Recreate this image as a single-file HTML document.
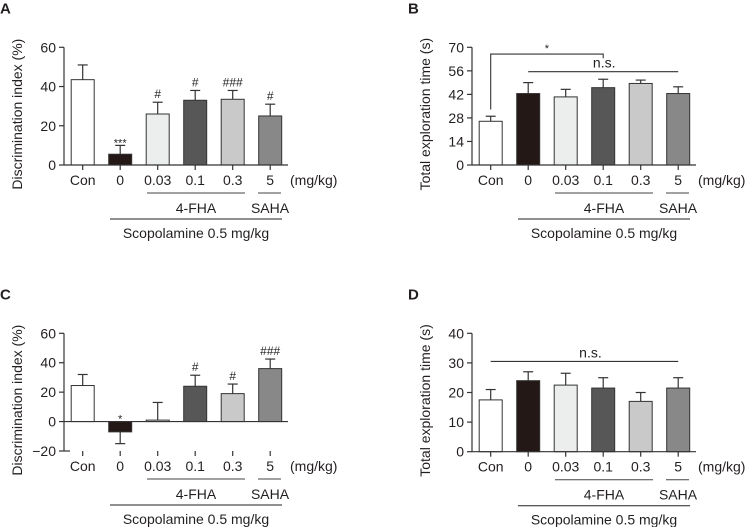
<!DOCTYPE html>
<html><head><meta charset="utf-8"><style>
body{margin:0;background:#fff}
svg{display:block;font-family:"Liberation Sans",sans-serif;fill:#231f20}
</style></head><body>
<svg id="fig" width="748" height="527" viewBox="0 0 748 527" xmlns="http://www.w3.org/2000/svg"></svg>
<script>
const categories=["Con","0","0.03","0.1","0.3","5"];
const colors=["#ffffff","#231815","#eceeee","#575757","#c9c9c9","#888888"];
const aMeans=[43.5,5.5,26,33,33.5,25];
const aErr=[7.5,4.5,6,5,4.5,6];
const aMarks=["","***","#","#","###","#"];
const aTicks=[0,20,40,60];
const bMeans=[26,42.5,40.5,46,48.5,42.5];
const bErr=[3,6.5,4.5,5,2,4];
const bTicks=[0,14,28,42,56,70];
const cMeans=[24.5,-7,1,24,19,36];
const cErr=[7.5,8,12,7.5,6.5,6.5];
const cMarks=["","*","","#","#","###"];
const cTicks=[-20,0,20,40,60];
const dMeans=[17.5,24,22.5,21.5,17,21.5];
const dErr=[3.5,3,4,3.5,3,3.5];
const dTicks=[0,10,20,30,40];
const NS="http://www.w3.org/2000/svg";
const svg=document.getElementById('fig');
function mk(tag,attrs,parent,text){const e=document.createElementNS(NS,tag);for(const k in attrs)e.setAttribute(k,attrs[k]);if(text!==undefined)e.textContent=text;(parent||svg).appendChild(e);return e;}
function panel(o){
  const g=mk('g',{});
  
  
  const min=o.ticks[0],max=o.ticks[o.ticks.length-1];
  const y=v=>o.yBot-(v-min)/(max-min)*(o.yBot-o.yTop);
  const x=i=>o.x0+18.7+i*37.5;
  const L=mk('text',{x:o.x0-64,y:o.yTop-34,'font-size':15,'font-weight':'bold'},g,o.letter);
  
  const ax=mk('line',{x1:o.x0,y1:o.yTop,x2:o.x0,y2:o.yBot,stroke:'#333','stroke-width':1.2},g);
  
  o.ticks.forEach(t=>{
    mk('line',{x1:o.x0-5,x2:o.x0,y1:y(t),y2:y(t),stroke:'#333','stroke-width':1.2},g);
    const tl=mk('text',{x:o.x0-8,y:y(t)+5,'font-size':14,'text-anchor':'end'},g,t<0?'\u2212'+(-t):String(t));
    
  });
  const yt=mk('text',{transform:`translate(${o.x0-42},${(o.yTop+o.yBot)/2+8}) rotate(-90)`,'font-size':14,'text-anchor':'middle'},g,o.ytitle);
  
  o.means.forEach((m,i)=>{
    const cx=x(i),w=23,z=y(Math.max(min,0)),ym=y(m);
    const top=m>=0?y(m+o.err[i]):y(m-o.err[i]);
    const eb=mk('line',{x1:cx,x2:cx,y1:ym,y2:top,stroke:'#333','stroke-width':1.2},g);
    
    mk('line',{x1:cx-5,x2:cx+5,y1:top,y2:top,stroke:'#333','stroke-width':1.2},g);
    const b=mk('rect',{x:cx-w/2,y:Math.min(z,ym),width:w,height:Math.abs(z-ym),fill:colors[i],stroke:'#333','stroke-width':1},g);
    
    if(o.marks&&o.marks[i]){
      const star=o.marks[i].indexOf('*')>=0;
      let ty;
      if(m>=0) ty=star?top+1:top-4;
      else ty=star?z+1:z-4;
      const mt=mk('text',{x:cx,y:ty,'font-size':star?11:12,'text-anchor':'middle'},g,o.marks[i]);
      
    }
  });
  const z0=y(Math.max(min,0));
  const xa=mk('line',{x1:o.x0,x2:o.x0+224,y1:o.zeroAxis?z0:o.yBot,y2:o.zeroAxis?z0:o.yBot,stroke:'#333','stroke-width':1.2},g);
  
  if(o.zeroAxis) mk('line',{x1:o.x0,x2:o.x0+6,y1:o.yBot,y2:o.yBot,stroke:'#333','stroke-width':1.2},g);
  categories.forEach((c,i)=>{
    mk('line',{x1:x(i),x2:x(i),y1:o.yBot,y2:o.yBot+5,stroke:'#333','stroke-width':1.2},g);
    const cl=mk('text',{x:x(i),y:o.yBot+20,'font-size':14,'text-anchor':'middle'},g,c);
    
  });
  const u=mk('text',{x:o.x0+226,y:o.yBot+20,'font-size':14},g,'(mg/kg)');
  
  const b1=o.yBot+28;
  mk('line',{x1:o.x0+83,x2:o.x0+181,y1:b1,y2:b1,stroke:'#444','stroke-width':1},g);
  mk('line',{x1:o.x0+194,x2:o.x0+217,y1:b1,y2:b1,stroke:'#444','stroke-width':1},g);
  const f=mk('text',{x:o.x0+132,y:b1+20,'font-size':14,'text-anchor':'middle'},g,'4-FHA');
  
  const s=mk('text',{x:o.x0+206,y:b1+20,'font-size':14,'text-anchor':'middle'},g,'SAHA');
  
  const b2=b1+26;
  mk('line',{x1:o.x0+46,x2:o.x0+218,y1:b2,y2:b2,stroke:'#222','stroke-width':1},g);
  const sc=mk('text',{x:o.x0+132,y:b2+19,'font-size':14,'text-anchor':'middle'},g,'Scopolamine 0.5 mg/kg');
  
  return {g,x,y};
}
panel({letter:'A',x0:64,yTop:47.3,yBot:165,ticks:aTicks,means:aMeans,err:aErr,marks:aMarks,ytitle:'Discrimination index (%)'});
const pb=panel({letter:'B',x0:472,yTop:47.3,yBot:165,ticks:bTicks,means:bMeans,err:bErr,ytitle:'Total exploration time (s)'});
const sb=mk('polyline',{points:`${pb.x(0)},${pb.y(33)} ${pb.x(0)},${pb.y(66)} ${pb.x(3)},${pb.y(66)} ${pb.x(3)},${pb.y(63.5)}`,fill:'none',stroke:'#333','stroke-width':1.1},pb.g);

mk('text',{x:(pb.x(0)+pb.x(3))/2,y:pb.y(66)-2,'font-size':11,'text-anchor':'middle'},pb.g,'*');
mk('line',{x1:pb.x(1),x2:pb.x(5),y1:pb.y(55.5),y2:pb.y(55.5),stroke:'#333','stroke-width':1.1},pb.g);
mk('text',{x:pb.x(3)+1,y:pb.y(55.5)-4,'font-size':14,'text-anchor':'middle'},pb.g,'n.s.');
panel({letter:'C',x0:64,yTop:333.3,yBot:451,ticks:cTicks,means:cMeans,err:cErr,marks:cMarks,zeroAxis:true,ytitle:'Discrimination index (%)'});
const pd=panel({letter:'D',x0:472,yTop:333.3,yBot:451.7,ticks:dTicks,means:dMeans,err:dErr,ytitle:'Total exploration time (s)'});
const nd=mk('line',{x1:pd.x(0),x2:pd.x(5),y1:pd.y(30.5),y2:pd.y(30.5),stroke:'#333','stroke-width':1.1},pd.g);

mk('text',{x:(pd.x(0)+pd.x(5))/2+6,y:pd.y(30.5)-4,'font-size':14,'text-anchor':'middle'},pd.g,'n.s.');
</script>
</body></html>
